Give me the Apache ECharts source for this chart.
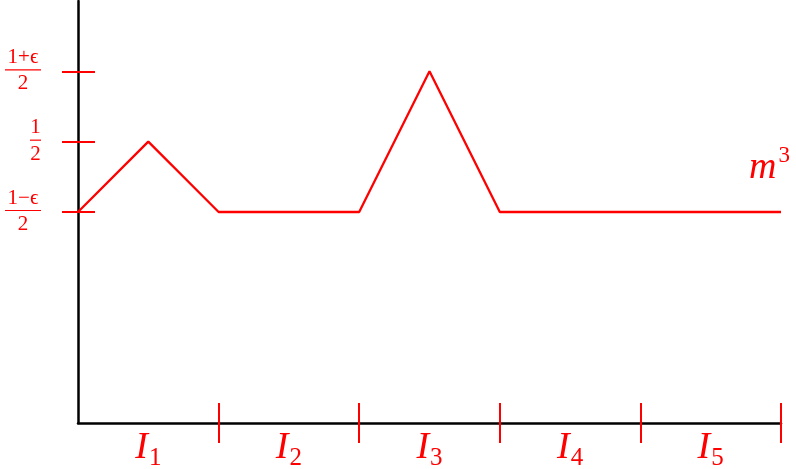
<!DOCTYPE html>
<html>
<head>
<meta charset="utf-8">
<script src="https://cdn.jsdelivr.net/npm/echarts@6.0.0/dist/echarts.min.js"></script>
<style>
html, body { margin: 0; padding: 0; background: #fff; }
#chart { width: 796px; height: 469px; }
</style>
</head>
<body>
<div id="chart"></div>
<script>
// piecewise curve m^3 over the intervals I1..I5
var xPoints = [0, 1, 2, 4, 5, 6, 10];
var yPoints = [3, 4, 3, 3, 5, 3, 3];

// interval ends and interval names (label sits in the middle)
var intervalEnds = [2, 4, 6, 8, 10];
var intervalMids = [1, 3, 5, 7, 9];
var intervalSubs = ['1', '2', '3', '4', '5'];

// y ticks: (1-eps)/2, 1/2, (1+eps)/2
var yTicks = [3, 4, 5];
var yNumerators = ['1\u2212\u03f5', '1', '1+\u03f5'];
var yDenominators = ['2', '2', '2'];

var curveBase = 'm';
var curvePower = '3';

var RED = '#ff0000';
var SERIF = 'Liberation Serif';

var lineData = [];
for (var i = 0; i < xPoints.length; i++) {
    lineData.push([xPoints[i], yPoints[i]]);
}

function fracLabel(value) {
    var idx = yTicks.indexOf(value);
    if (idx < 0) return '';
    var num = yNumerators[idx];
    var bar = num.length > 1 ? 'bw' : 'bn';
    return '{num|' + num + '}\n{' + bar + '| }\n{den|' + yDenominators[idx] + '}';
}

function intervalLabel(value) {
    var idx = intervalMids.indexOf(value);
    if (idx < 0) return '';
    return '{i|I}{s|' + intervalSubs[idx] + '}';
}

var myChart = echarts.init(document.getElementById('chart'));
var option = {
    animation: false,
    grid: { left: 78, right: 15, top: 1, bottom: 46, outerBoundsMode: 'none' },
    xAxis: [{
        type: 'value',
        position: 'bottom',
        min: 0,
        max: 10,
        splitLine: { show: false },
        axisLine: { lineStyle: { color: '#000', width: 2.5 } },
        axisTick: {
            customValues: intervalEnds,
            length: 20,
            lineStyle: { color: RED, width: 2 }
        },
        axisLabel: {
            customValues: intervalMids,
            margin: 5,
            fontFamily: SERIF,
            color: RED,
            formatter: intervalLabel,
            rich: {
                i: { fontFamily: SERIF, fontStyle: 'italic', fontSize: 38, color: RED, lineHeight: 40 },
                s: { fontFamily: SERIF, fontSize: 25, color: RED, verticalAlign: 'bottom', lineHeight: 40, padding: [0, 0, -3, 1] }
            }
        }
    }, {
        type: 'value',
        position: 'bottom',
        min: 0,
        max: 10,
        splitLine: { show: false },
        axisLine: { show: false },
        axisTick: {
            customValues: intervalEnds,
            inside: true,
            length: 20,
            lineStyle: { color: RED, width: 2 }
        },
        axisLabel: { show: false }
    }],
    yAxis: [{
        type: 'value',
        position: 'left',
        min: 0,
        max: 6,
        splitLine: { show: false },
        axisLine: { lineStyle: { color: '#000', width: 2.5 } },
        axisTick: {
            customValues: yTicks,
            length: 16,
            lineStyle: { color: RED, width: 2 }
        },
        axisLabel: {
            customValues: yTicks,
            margin: 37,
            fontFamily: SERIF,
            fontSize: 21,
            color: RED,
            formatter: fracLabel,
            rich: {
                num: { fontFamily: SERIF, fontSize: 21, color: RED, lineHeight: 19, align: 'center' },
                den: { fontFamily: SERIF, fontSize: 21, color: RED, lineHeight: 22, align: 'center' },
                bw: { width: 36, height: 1.2, lineHeight: 6, backgroundColor: RED, align: 'center' },
                bn: { width: 11, height: 1.2, lineHeight: 6, backgroundColor: RED, align: 'center' }
            }
        }
    }, {
        type: 'value',
        position: 'left',
        min: 0,
        max: 6,
        splitLine: { show: false },
        axisLine: { show: false },
        axisTick: {
            customValues: yTicks,
            inside: true,
            length: 17,
            lineStyle: { color: RED, width: 2 }
        },
        axisLabel: { show: false }
    }],
    series: [{
        name: curveBase + curvePower,
        type: 'line',
        xAxisIndex: 0,
        yAxisIndex: 0,
        data: lineData,
        showSymbol: false,
        lineStyle: { color: RED, width: 2.3 },
        endLabel: {
            show: true,
            offset: [-40, -44],
            formatter: function() {
                return '{m|' + curveBase + '}{p|' + curvePower + '}';
            },
            rich: {
                m: { fontFamily: SERIF, fontStyle: 'italic', fontSize: 38, color: RED, lineHeight: 40 },
                p: { fontFamily: SERIF, fontSize: 23, color: RED, verticalAlign: 'top', lineHeight: 40, padding: [-4, 0, 0, 2] }
            }
        }
    }]
};
myChart.setOption(option);
</script>
</body>
</html>
